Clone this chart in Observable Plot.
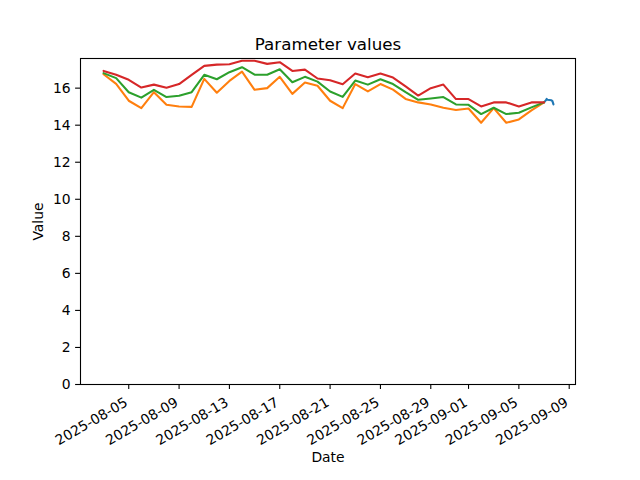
<!DOCTYPE html>
<html>
<head>
<meta charset="utf-8">
<script src="https://cdn.jsdelivr.net/npm/d3@7"></script>
<script src="https://cdn.jsdelivr.net/npm/@observablehq/plot@0.6"></script>
<style>
  body { margin: 0; background: #fff; }
</style>
</head>
<body>
<div id="chart"></div>
<script>
const title = "Parameter values";
const xLabel = "Date";
const yLabel = "Value";

const startDay = "2025-08-03";
const dayCount = 36;

const redValues = [16.93, 16.72, 16.45, 16.03, 16.19, 16.02, 16.22, 16.72, 17.20, 17.27,
  17.29, 17.48, 17.48, 17.31, 17.40, 16.93, 17.00, 16.52, 16.43, 16.21,
  16.79, 16.59, 16.79, 16.57, 16.09, 15.60, 16.00, 16.19, 15.41, 15.41,
  15.01, 15.23, 15.23, 15.01, 15.23, 15.23];
const greenValues = [16.81, 16.54, 15.78, 15.49, 15.91, 15.52, 15.59, 15.78, 16.72, 16.48,
  16.86, 17.13, 16.73, 16.72, 17.02, 16.32, 16.61, 16.35, 15.82, 15.53,
  16.41, 16.19, 16.48, 16.22, 15.78, 15.37, 15.44, 15.52, 15.12, 15.10,
  14.60, 14.94, 14.60, 14.67, 14.96, 15.23];
const orangeValues = [16.75, 16.23, 15.32, 14.92, 15.78, 15.10, 15.01, 14.99, 16.50, 15.75,
  16.39, 16.89, 15.91, 16.00, 16.61, 15.69, 16.30, 16.13, 15.32, 14.92,
  16.22, 15.82, 16.22, 15.92, 15.42, 15.23, 15.12, 14.94, 14.82, 14.90,
  14.13, 14.92, 14.13, 14.31, 14.80, 15.23];

const blueTimes = ["2025-09-07T00:00Z", "2025-09-07T02:00Z", "2025-09-07T04:00Z", "2025-09-07T05:00Z",
  "2025-09-07T06:00Z", "2025-09-07T10:00Z", "2025-09-07T14:00Z", "2025-09-07T16:00Z", "2025-09-07T18:00Z"];
const blueValues = [15.23, 15.30, 15.36, 15.42, 15.37, 15.36, 15.35, 15.30, 15.12];

const xTicks = ["2025-08-05", "2025-08-09", "2025-08-13", "2025-08-17", "2025-08-21",
  "2025-08-25", "2025-08-29", "2025-09-01", "2025-09-05", "2025-09-09"];
const yTicks = [0, 2, 4, 6, 8, 10, 12, 14, 16];
const xDomain = ["2025-08-01T04:00Z", "2025-09-09T12:00Z"];
const yDomain = [0, 17.6];

const day0 = new Date(startDay + "T00:00Z");
const days = d3.range(dayCount).map(i => d3.utcDay.offset(day0, i));
const series = (vals) => vals.map((v, i) => ({date: days[i], value: v}));
const blueData = blueTimes.map((t, i) => ({date: new Date(t), value: blueValues[i]}));

const fontFamily = "'DejaVu Sans', sans-serif";
const fmt = d3.utcFormat("%Y-%m-%d");

const chart = Plot.plot({
  width: 640,
  height: 480,
  marginLeft: 80,
  marginRight: 65,
  marginTop: 58,
  marginBottom: 96,
  style: {fontFamily, fontSize: "13.9px", color: "black", background: "white"},
  x: {type: "utc", domain: xDomain.map(d => new Date(d))},
  y: {domain: yDomain},
  marks: [
    Plot.line(blueData, {x: "date", y: "value", stroke: "#1f77b4", strokeWidth: 2.08}),
    Plot.line(series(orangeValues), {x: "date", y: "value", stroke: "#ff7f0e", strokeWidth: 2.08}),
    Plot.line(series(greenValues), {x: "date", y: "value", stroke: "#2ca02c", strokeWidth: 2.08}),
    Plot.line(series(redValues), {x: "date", y: "value", stroke: "#d62728", strokeWidth: 2.08}),
    Plot.frame({stroke: "black", strokeWidth: 1.1}),
    Plot.axisX({
      ticks: xTicks.map(d => new Date(d + "T00:00Z")),
      tickSize: 4.9,
      tickPadding: 15.8,
      tickRotate: -30,
      textAnchor: "end",
      lineAnchor: "bottom",
      tickFormat: fmt,
      label: null,
      strokeWidth: 1.1
    }),
    Plot.axisY({
      ticks: yTicks,
      tickSize: 4.9,
      tickPadding: 4.9,
      tickFormat: d => String(d),
      label: null,
      strokeWidth: 1.1
    }),
    Plot.text([title], {frameAnchor: "top", text: d => d, dy: -9, lineAnchor: "bottom", fontSize: 16.7}),
    Plot.text([xLabel], {frameAnchor: "bottom", text: d => d, dy: 73, lineAnchor: "middle"}),
    Plot.text([yLabel], {frameAnchor: "left", text: d => d, dx: -42, rotate: -90, lineAnchor: "middle", textAnchor: "middle"})
  ]
});
document.getElementById("chart").appendChild(chart);
</script>
</body>
</html>
